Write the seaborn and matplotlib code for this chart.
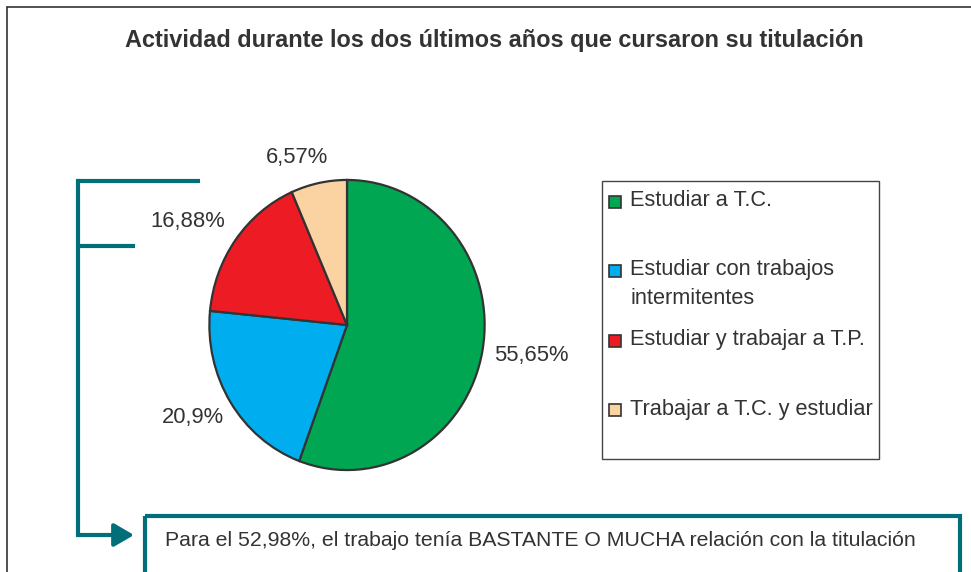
import matplotlib
matplotlib.use("Agg")
import matplotlib.pyplot as plt
import seaborn as sns
from matplotlib.patches import Rectangle, FancyArrowPatch

# ---- data ----
categories = ["Estudiar a T.C.", "Estudiar con trabajos\nintermitentes",
              "Estudiar y trabajar a T.P.", "Trabajar a T.C. y estudiar"]
values = [55.65, 20.9, 16.88, 6.57]
value_labels = ["55,65%", "20,9%", "16,88%", "6,57%"]
title = "Actividad durante los dos últimos años que cursaron su titulación"
note = "Para el 52,98%, el trabajo tenía BASTANTE O MUCHA relación con la titulación"
colors = ["#00A651", "#00AEEF", "#ED1C24", "#FBD3A2"]

sns.set_theme(style="white")
plt.rcParams["font.family"] = ["Liberation Sans", "DejaVu Sans"]

W, H = 971, 572
fig = plt.figure(figsize=(W / 100, H / 100), dpi=100)
fig.patch.set_facecolor("white")

# background overlay in pixel coordinates
bg = fig.add_axes([0, 0, 1, 1])
bg.set_xlim(0, W)
bg.set_ylim(H, 0)
bg.axis("off")

txt = "#333333"
teal = "#006F79"

# outer frame (left and top)
bg.plot([7, 7], [7, H], color="#333333", lw=1.2)
bg.plot([7, W], [7, 7], color="#333333", lw=1.2)

# title
bg.text(494, 41, title, ha="center", va="center", fontsize=16.9,
        fontweight="bold", color=txt)

# bracket
bg.plot([78, 78], [181, 535], color=teal, lw=3, solid_capstyle="projecting")
bg.plot([78, 200], [181, 181], color=teal, lw=3, solid_capstyle="butt")
bg.plot([78, 135], [246, 246], color=teal, lw=3, solid_capstyle="butt")
arr = FancyArrowPatch((78, 535), (134, 535), arrowstyle="-|>,head_length=12,head_width=7",
                      mutation_scale=1, color=teal, lw=3, shrinkA=0, shrinkB=0)
bg.add_patch(arr)

# note box
bg.add_patch(Rectangle((145, 516), 815, 80, fill=False, edgecolor=teal, lw=3))
bg.text(165, 540, note, ha="left", va="center", fontsize=15.3, color=txt)

# legend (manual)
bg.add_patch(Rectangle((602, 181), 277, 278, fill=False, edgecolor="#444444", lw=1))
leg_y = [201, 270, 340, 409]
for c, lab, y in zip(colors, categories, leg_y):
    bg.add_patch(Rectangle((609, y - 5), 12, 12, facecolor=c, edgecolor="#333333", lw=1.2))
    lines = lab.split("\n")
    for i, line in enumerate(lines):
        bg.text(630, y + 29 * i, line, ha="left", va="center", fontsize=15.7, color=txt)

# pie
cx, cy, rx, ry = 347, 325, 139, 146.5
pie_ax = fig.add_axes([(cx - rx) / W, (H - cy - ry) / H, 2 * rx / W, 2 * ry / H])
pal = sns.color_palette(colors)
pie_ax.pie(values, colors=pal, startangle=90, counterclock=False,
           wedgeprops=dict(edgecolor="#333333", linewidth=1.6))
pie_ax.set_aspect("auto")
pie_ax.set_xlim(-1.01, 1.01)
pie_ax.set_ylim(-1.01, 1.01)
pie_ax.axis("off")

# value labels
label_pos = [(531, 355), (193, 418), (188, 221), (297, 157)]
for lab, (x, y) in zip(value_labels, label_pos):
    bg.text(x, y, lab, ha="center", va="center", fontsize=15.8, color=txt)

fig.savefig("out.png", dpi=100, facecolor="white")
